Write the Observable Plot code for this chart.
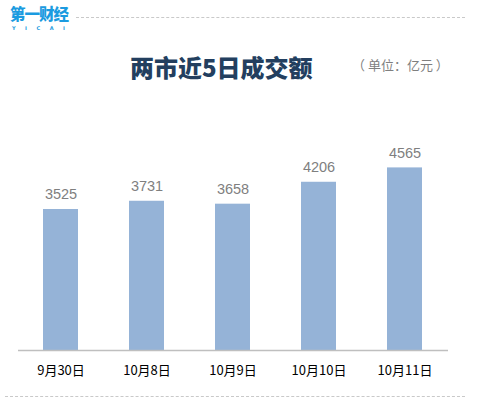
<!DOCTYPE html>
<html>
<head>
<meta charset="utf-8">
<script src="https://cdn.jsdelivr.net/npm/d3@7"></script>
<script src="https://cdn.jsdelivr.net/npm/@observablehq/plot@0.6"></script>
<style>
  html, body { margin: 0; padding: 0; background: #fff; }
  #wrap { position: relative; width: 477px; height: 413px; overflow: hidden; font-family: "Noto Sans CJK SC", sans-serif; }
  #chart { position: absolute; left: 0; top: 0; }
  .logo { position: absolute; left: 10px; top: 5px; color: #1b9be0; font-weight: 900; font-size: 15.5px; line-height: 17px; letter-spacing: -1px; }
  .logo-sub { position: absolute; left: 12px; top: 26px; color: #1b9be0; font-family: "DejaVu Sans", sans-serif; font-size: 5px; line-height: 5px; font-weight: bold; letter-spacing: 9.5px; }
  .topline { position: absolute; left: 76px; top: 17px; width: 389px; border-top: 1px dashed #c9c9c9; }
  .botline { position: absolute; left: 5px; top: 396px; width: 460px; border-top: 1px dashed #c9c9c9; }
  .title { position: absolute; left: 130px; top: 50px; color: #233f5f; font-weight: 900; font-size: 24px; line-height: 34px; white-space: nowrap; }
  .unit { position: absolute; left: 352px; top: 55px; color: #7f7f7f; font-size: 13px; line-height: 20px; white-space: nowrap; }
</style>
</head>
<body>
<div id="wrap">
  <div id="chart"></div>
  <div class="logo">第一财经</div>
  <div class="logo-sub">YICAI</div>
  <div class="topline"></div>
  <div class="botline"></div>
  <div class="title">两市近5日成交额</div>
  <div class="unit">（ 单位：亿元 ）</div>
</div>
<script>
const categories = ["9月30日", "10月8日", "10月9日", "10月10日", "10月11日"];
const values = [3525, 3731, 3658, 4206, 4565];

const data = categories.map((c, i) => ({ date: c, value: values[i] }));

const chart = Plot.plot({
  width: 477,
  height: 413,
  marginTop: 110,
  marginBottom: 63,
  marginLeft: 18,
  marginRight: 29,
  style: { background: "transparent", fontFamily: "\"Noto Sans CJK SC\", sans-serif" },
  x: { domain: categories, paddingInner: 0.59, paddingOuter: 0.295, label: null },
  y: { domain: [0, 6000], axis: null },
  marks: [
    Plot.barY(data, { x: "date", y: "value", fill: "#95b3d7" }),
    Plot.ruleY([0], { stroke: "#bfbfbf", strokeWidth: 1.5 }),
    Plot.text(data, {
      x: "date", y: "value", text: d => String(d.value),
      dy: -15, fill: "#7f7f7f", fontSize: 14.5,
      fontFamily: "\"Liberation Sans\", Arial, sans-serif"
    }),
    Plot.axisX({ tickSize: 0, tickPadding: 15, fontSize: 13, color: "#000", label: null })
  ]
});
document.getElementById("chart").appendChild(chart);
</script>
</body>
</html>
